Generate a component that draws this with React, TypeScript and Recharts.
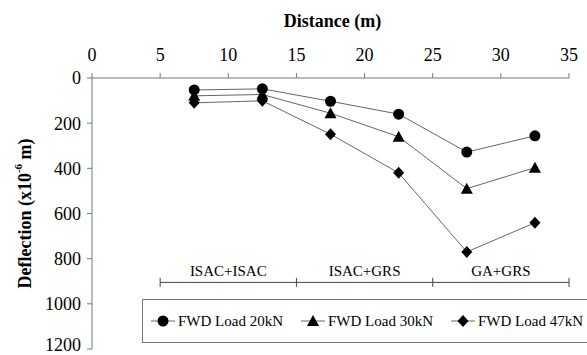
import React from 'react';
import { LineChart, Line, XAxis, YAxis, Legend, ReferenceLine } from 'recharts';

const DISTANCE = [7.5, 12.5, 17.5, 22.5, 27.5, 32.5];
const LOAD_20KN = [53, 48, 103, 160, 328, 256];
const LOAD_30KN = [79, 73, 156, 260, 490, 397];
const LOAD_47KN = [110, 101, 249, 420, 770, 641];

const X_TICKS = [0, 5, 10, 15, 20, 25, 30, 35];
const Y_TICKS = [0, 200, 400, 600, 800, 1000, 1200];

const ZONE_NAMES = ['ISAC+ISAC', 'ISAC+GRS', 'GA+GRS'];
const ZONE_EDGES = [5, 15, 25, 35];
const ZONE_LEVEL = 905;

const SERIES = [
  { key: 'load20', name: 'FWD Load 20kN', shape: 'circle' },
  { key: 'load30', name: 'FWD Load 30kN', shape: 'triangle' },
  { key: 'load47', name: 'FWD Load 47kN', shape: 'diamond' },
];

const data = DISTANCE.map((d, i) => ({
  distance: d,
  load20: LOAD_20KN[i],
  load30: LOAD_30KN[i],
  load47: LOAD_47KN[i],
}));

const FONT = "'Liberation Serif'";
const AXIS_GREY = '#777';
const LINE_GREY = '#666';

const Marker = ({ cx, cy, shape }: { cx: number; cy: number; shape: string }) => {
  if (shape === 'circle') return <circle cx={cx} cy={cy} r={5.5} fill="#000" />;
  if (shape === 'triangle')
    return <polygon points={`${cx},${cy - 6} ${cx + 6},${cy + 5} ${cx - 6},${cy + 5}`} fill="#000" />;
  return <polygon points={`${cx},${cy - 6} ${cx + 5.5},${cy} ${cx},${cy + 6} ${cx - 5.5},${cy}`} fill="#000" />;
};

const makeDot = (shape: string) => (props: any) => {
  const { cx, cy, index } = props;
  if (cx == null || cy == null) return <g key={index} />;
  return <Marker key={index} cx={cx} cy={cy} shape={shape} />;
};

const LegendBox = () => (
  <div
    style={{
      width: 470,
      height: 44,
      border: `1px solid ${AXIS_GREY}`,
      display: 'flex',
      alignItems: 'center',
      fontFamily: FONT,
      fontSize: 15,
      color: '#000',
      boxSizing: 'border-box',
      paddingLeft: 8,
    }}
  >
    {SERIES.map((s) => (
      <div key={s.key} style={{ display: 'flex', alignItems: 'center', width: 150 }}>
        <svg width={24} height={14}>
          <line x1={0} y1={7} x2={24} y2={7} stroke={LINE_GREY} strokeWidth={1} />
          <Marker cx={12} cy={7} shape={s.shape} />
        </svg>
        <span style={{ marginLeft: 3, whiteSpace: 'nowrap' }}>{s.name}</span>
      </div>
    ))}
  </div>
);

const YTitle = ({ viewBox }: any) => {
  const x = 25;
  const y = viewBox.y + viewBox.height / 2;
  return (
    <text
      x={x}
      y={y}
      transform={`rotate(-90, ${x}, ${y})`}
      textAnchor="middle"
      dominantBaseline="central"
      style={{ fontFamily: FONT, fontSize: 18, fontWeight: 'bold' }}
      fill="#000"
    >
      Deflection (x10
      <tspan fontSize={11} dy={-7}>-6</tspan>
      <tspan dy={7}> m)</tspan>
    </text>
  );
};

const XTitle = ({ viewBox }: any) => (
  <text
    x={viewBox.x + viewBox.width / 2 + 2}
    y={21}
    textAnchor="middle"
    dominantBaseline="central"
    style={{ fontFamily: FONT, fontSize: 18, fontWeight: 'bold' }}
    fill="#000"
  >
    Distance (m)
  </text>
);

const tickStyle = { fontSize: 18, fill: '#000', style: { fontFamily: FONT } };

export default function App() {
  return (
    <div
      style={{
        position: 'absolute',
        left: 0,
        top: 0,
        width: 587,
        height: 355,
        background: '#fff',
        fontFamily: FONT,
      }}
    >
      <LineChart
        width={587}
        height={355}
        data={data}
        margin={{ top: 48, right: 18, bottom: 6, left: 32 }}
        style={{ fontFamily: FONT }}
      >
        <XAxis
          dataKey="distance"
          type="number"
          orientation="top"
          domain={[0, 35]}
          ticks={X_TICKS}
          height={30}
          axisLine={{ stroke: AXIS_GREY }}
          tickLine={{ stroke: AXIS_GREY }}
          tickSize={5}
          tickMargin={12}
          tick={tickStyle}
          label={{ content: XTitle }}
        />
        <YAxis
          type="number"
          reversed
          domain={[0, 1200]}
          ticks={Y_TICKS}
          width={60}
          axisLine={{ stroke: AXIS_GREY }}
          tickLine={{ stroke: AXIS_GREY }}
          tickSize={5}
          tickMargin={6}
          tick={tickStyle}
          label={{ content: YTitle }}
        />
        {ZONE_NAMES.map((name, i) => (
          <ReferenceLine
            key={`zone-${name}`}
            segment={[
              { x: ZONE_EDGES[i], y: ZONE_LEVEL },
              { x: ZONE_EDGES[i + 1], y: ZONE_LEVEL },
            ]}
            stroke="#444"
            strokeWidth={1}
            label={{
              value: name,
              position: 'top',
              offset: 6,
              fontSize: 15,
              fill: '#000',
              style: { fontFamily: FONT },
            }}
          />
        ))}
        {ZONE_EDGES.map((edge) => (
          <ReferenceLine
            key={`edge-${edge}`}
            segment={[
              { x: edge, y: ZONE_LEVEL - 20 },
              { x: edge, y: ZONE_LEVEL + 20 },
            ]}
            stroke="#444"
            strokeWidth={1}
          />
        ))}
        {SERIES.map((s) => (
          <Line
            key={s.key}
            dataKey={s.key}
            name={s.name}
            type="linear"
            stroke={LINE_GREY}
            strokeWidth={1}
            dot={makeDot(s.shape)}
            activeDot={false}
            isAnimationActive={false}
          />
        ))}
        <Legend
          layout="vertical"
          align="center"
          verticalAlign="middle"
          content={LegendBox}
          wrapperStyle={{ position: 'absolute', left: 142, top: 299, width: 470, height: 44 }}
        />
      </LineChart>
    </div>
  );
}
